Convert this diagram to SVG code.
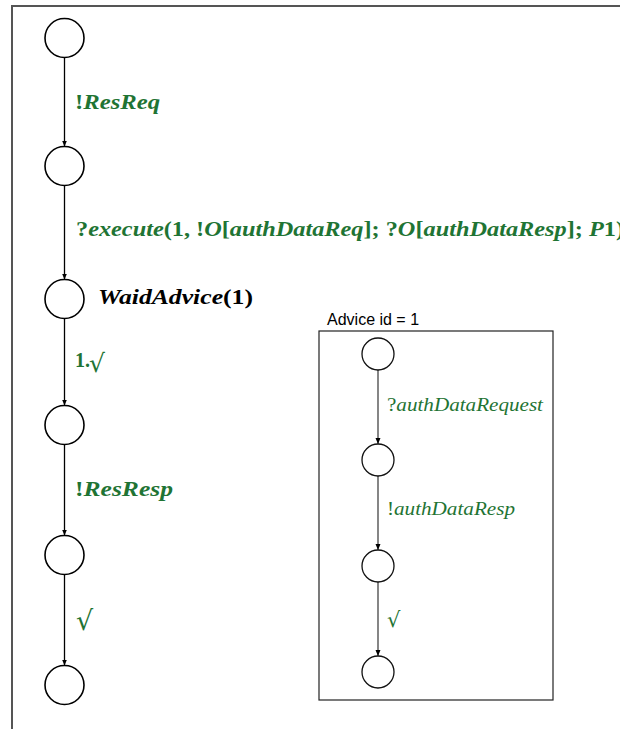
<svg xmlns="http://www.w3.org/2000/svg" width="620" height="729" viewBox="0 0 620 729">
<style>
.st{fill:#fff;stroke:#000;stroke-width:1.6}
.sti{fill:#fff;stroke:#111;stroke-width:1.3}
.edge{stroke:#000;stroke-width:1.3;fill:none}
.edgei{stroke:#222;stroke-width:1.1;fill:none}
.lbl{font-family:"Liberation Serif","DejaVu Serif",serif;font-style:italic;font-weight:bold;font-size:20px;fill:#1f7434}
.lbli{font-family:"Liberation Serif","DejaVu Serif",serif;font-style:italic;font-size:18px;fill:#1f7434}
.up{font-style:normal}
.chk{font-family:"DejaVu Sans",sans-serif;fill:#1f7434}
.wait{font-family:"Liberation Serif","DejaVu Serif",serif;font-style:italic;font-weight:bold;font-size:20px;fill:#000}
.title{font-family:"Liberation Sans",Arial,sans-serif;font-size:16px;fill:#000}
</style>
<defs>
<marker id="ah" markerUnits="userSpaceOnUse" markerWidth="6" markerHeight="6" refX="6" refY="3" orient="auto">
<path d="M0,0.5 L6,3 L0,5.5 z" fill="#000"/>
</marker>
</defs>
<rect width="620" height="729" fill="#fff"/>
<rect x="12" y="6" width="620" height="740" fill="none" stroke="#555" stroke-width="2"/>
<g id="connectors">
<line class="edge" x1="64.5" y1="57.5" x2="64.5" y2="146.5" marker-end="url(#ah)"/>
<line class="edge" x1="64.5" y1="185.5" x2="64.5" y2="279.5" marker-end="url(#ah)"/>
<line class="edge" x1="64.5" y1="318.5" x2="64.5" y2="405.5" marker-end="url(#ah)"/>
<line class="edge" x1="64.5" y1="444.5" x2="64.5" y2="535.5" marker-end="url(#ah)"/>
<line class="edge" x1="64.5" y1="574.5" x2="64.5" y2="665.5" marker-end="url(#ah)"/>
<line class="edgei" x1="378" y1="370" x2="378" y2="444" marker-end="url(#ah)"/>
<line class="edgei" x1="378" y1="476" x2="378" y2="550" marker-end="url(#ah)"/>
<line class="edgei" x1="378" y1="582" x2="378" y2="656" marker-end="url(#ah)"/>
<text class="lbl" x="75" y="109" textLength="85" lengthAdjust="spacingAndGlyphs"><tspan class="up">!</tspan>ResReq</text>
<text class="lbl" x="76" y="236" textLength="548" lengthAdjust="spacingAndGlyphs"><tspan class="up">?</tspan>execute<tspan class="up">(1, !</tspan>O<tspan class="up">[</tspan>authDataReq<tspan class="up">]; ?</tspan>O<tspan class="up">[</tspan>authDataResp<tspan class="up">]; </tspan>P<tspan class="up">1)</tspan></text>
<text class="lbl" x="75" y="367"><tspan class="up">1.</tspan></text>
<text class="chk" x="89" y="372" font-size="25">√</text>
<text class="lbl" x="75" y="496" textLength="98" lengthAdjust="spacingAndGlyphs"><tspan class="up">!</tspan>ResResp</text>
<text class="chk" x="76" y="630" font-size="27">√</text>
<text class="lbli" x="387" y="411" textLength="156" lengthAdjust="spacingAndGlyphs"><tspan class="up">?</tspan>authDataRequest</text>
<text class="lbli" x="387" y="515" textLength="128" lengthAdjust="spacingAndGlyphs"><tspan class="up">!</tspan>authDataResp</text>
<text class="chk" x="387" y="627" font-size="21">√</text>
</g>
<g id="s1"><circle class="st" cx="64.5" cy="38" r="19.5"/></g>
<g id="s2"><circle class="st" cx="64.5" cy="166" r="19.5"/></g>
<g id="s3"><circle class="st" cx="64.5" cy="299" r="19.5"/><text class="wait" x="98" y="304" textLength="155" lengthAdjust="spacingAndGlyphs">WaidAdvice<tspan class="up">(1)</tspan></text></g>
<g id="s4"><circle class="st" cx="64.5" cy="425" r="19.5"/></g>
<g id="s5"><circle class="st" cx="64.5" cy="555" r="19.5"/></g>
<g id="s6"><circle class="st" cx="64.5" cy="685" r="19.5"/></g>
<g id="advice">
<text class="title" x="327" y="325">Advice id = 1</text>
<rect x="319" y="331" width="234" height="369" fill="none" stroke="#222" stroke-width="1.2"/>
<g id="a1"><circle class="sti" cx="378" cy="354" r="16"/></g>
<g id="a2"><circle class="sti" cx="378" cy="460" r="16"/></g>
<g id="a3"><circle class="sti" cx="378" cy="566" r="16"/></g>
<g id="a4"><circle class="sti" cx="378" cy="672" r="16"/></g>
</g>
</svg>
